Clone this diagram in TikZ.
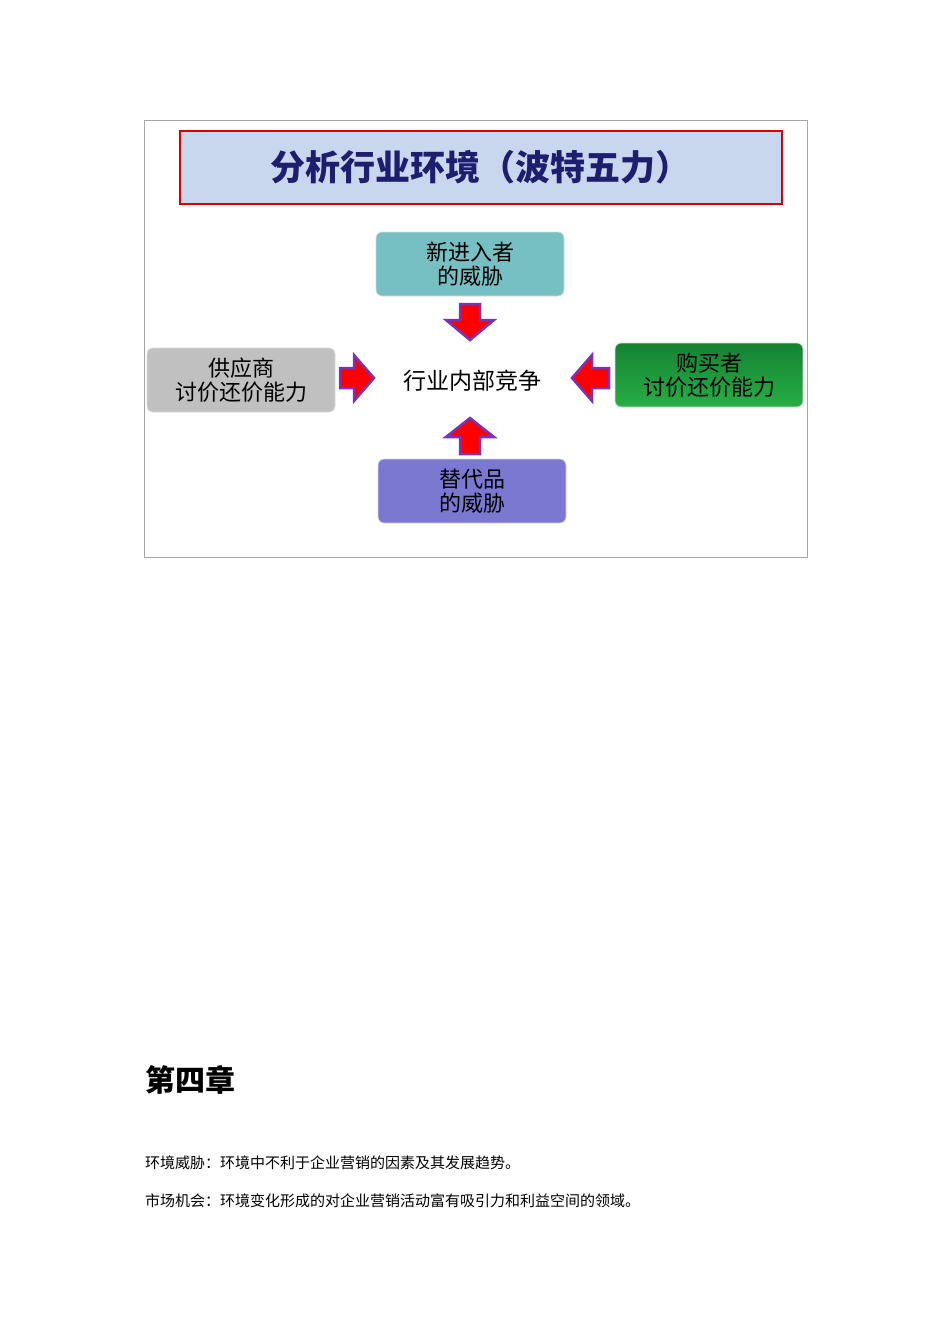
\documentclass[tikz,border=0pt]{standalone}
\usepackage{fontspec}
\setmainfont{Noto Sans CJK SC}
\newfontfamily\cjk{Noto Sans CJK SC}
\begin{document}
\begin{tikzpicture}[x=1pt,y=-1pt,
  box/.style={rounded corners=6pt,draw=black!15,line width=0.8pt,minimum width=188pt,minimum height=64pt,align=center,font=\fontsize{22}{28}\selectfont},
  barrow/.style={fill=red,draw=blue!55!purple!80,line width=2.5pt,line join=miter},
  txt/.style={anchor=base west,font=\fontsize{15}{18}\selectfont,inner sep=0pt}]
\useasboundingbox (0,0) rectangle (950,1344);
\draw[black!35,line width=0.8pt] (144,120) rectangle (807,557);
\node[draw=red!85!black,line width=2pt,fill={rgb,255:red,200;green,214;blue,238},minimum width=602pt,minimum height=73pt,
  font=\fontsize{35}{40}\selectfont\bfseries,text={rgb,255:red,30;green,30;blue,110}] (title) at (480.5,167) {分析行业环境（波特五力）};
\node[box,fill={rgb,255:red,118;green,192;blue,196}] (new) at (470,264) {新进入者\\[-4pt]的威胁};
\node[box,fill={rgb,255:red,192;green,192;blue,192}] (sup) at (241,380) {供应商\\[-4pt]讨价还价能力};
\node[box,top color={rgb,255:red,20;green,130;blue,50},bottom color={rgb,255:red,40;green,175;blue,70},draw=black!15] (buy) at (709,375) {购买者\\[-4pt]讨价还价能力};
\node[box,fill={rgb,255:red,122;green,120;blue,208}] (sub) at (472,491) {替代品\\[-4pt]的威胁};
\node[font=\fontsize{23}{28}\selectfont] (core) at (472,381) {行业内部竞争};
% arrows
\draw[barrow] (460,304)--(480,304)--(480,320)--(494,320)--(470,340)--(446,320)--(460,320)--cycle;
\draw[barrow] (460,454)--(480,454)--(480,437)--(494,437)--(470,418)--(446,437)--(460,437)--cycle;
\draw[barrow] (340,368)--(354,368)--(354,355)--(374,378)--(354,401)--(354,388)--(340,388)--cycle;
\draw[barrow] (609,368)--(592,368)--(592,355)--(572,378)--(592,401)--(592,388)--(609,388)--cycle;
\node[anchor=base west,font=\fontsize{30}{34}\selectfont\bfseries,inner sep=0pt] (ch) at (145,1091) {第四章};
\node[txt] (l1) at (145,1168) {环境威胁：环境中不利于企业营销的因素及其发展趋势。};
\node[txt] (l2) at (145,1206) {市场机会：环境变化形成的对企业营销活动富有吸引力和利益空间的领域。};
\end{tikzpicture}
\end{document}
